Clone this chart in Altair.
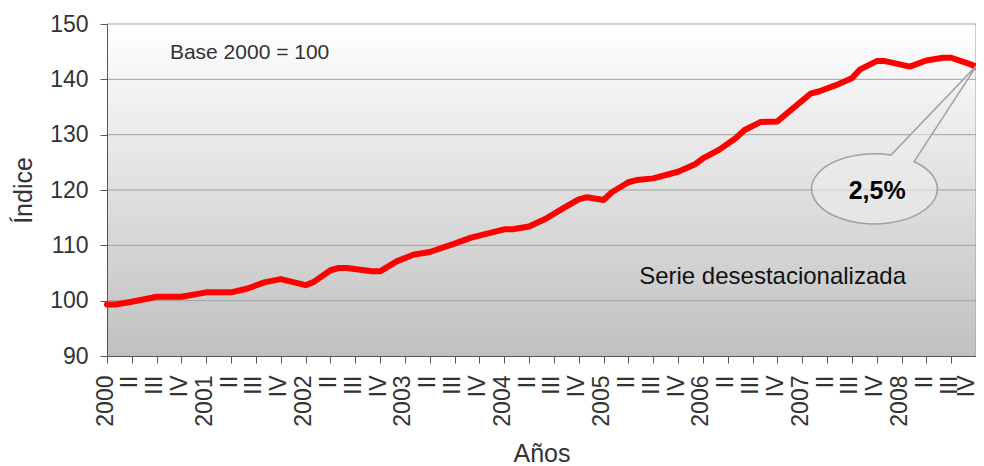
import altair as alt
import pandas as pd

# months since January 2000 and seasonally adjusted index (Base 2000 = 100)
meses = [0, 1, 3, 5, 6, 9, 12, 15, 17, 19, 21, 24, 25, 27, 28, 29, 32, 33, 35, 37,
         39, 42, 44, 48, 49, 51, 53, 55, 57, 58, 60, 61, 63, 64, 66, 69, 71, 72, 74, 76,
         77, 79, 81, 85, 86, 88, 90, 91, 93, 94, 97, 99, 101, 102, 104, 105]
indice = [99.3, 99.3, 99.8, 100.4, 100.7, 100.7, 101.5, 101.5, 102.2, 103.3,
          103.9, 102.8, 103.4, 105.5, 105.9, 105.9, 105.3, 105.3, 107.1, 108.3,
          108.8, 110.3, 111.4, 112.9, 112.9, 113.4, 114.8, 116.6, 118.3, 118.7,
          118.2, 119.6, 121.4, 121.8, 122.1, 123.3, 124.6, 125.7, 127.3, 129.4,
          130.8, 132.3, 132.4, 137.4, 137.8, 138.9, 140.2, 141.8, 143.3, 143.3,
          142.3, 143.4, 143.9, 143.9, 142.9, 142.3]

anio_inicial = 2000
trimestres = ["I", "II", "III", "IV"]
tick_meses = list(range(0, 106, 3))
y_ticks = [90, 100, 110, 120, 130, 140, 150]
grid_vals = [100, 110, 120, 130, 140, 150]

FONT = "Liberation Sans"
W, H = 869, 332

df = pd.DataFrame({"mes": meses, "indice": indice})
grid_df = pd.DataFrame({"v": grid_vals})

xs = alt.Scale(domain=[0, 105], nice=False, zero=False)
ys = alt.Scale(domain=[90, 150], nice=False, zero=False)

label_expr = (
    f"datum.value % 12 == 0 ? '' + ({anio_inicial} + datum.value / 12) : "
    f"(datum.value % 12 == 3 ? '{trimestres[1]}' : "
    f"(datum.value % 12 == 6 ? '{trimestres[2]}' : '{trimestres[3]}'))"
)

one = alt.Data(values=[{}])

bg = alt.Chart(one).mark_rect(
    color=alt.LinearGradient(
        gradient="linear", x1=0, x2=0, y1=0, y2=1,
        stops=[alt.GradientStop(offset=0, color="#ffffff"),
               alt.GradientStop(offset=1, color="#c0c0c0")])
).encode(
    x=alt.datum(0, scale=xs), x2=alt.datum(105),
    y=alt.datum(90, scale=ys), y2=alt.datum(150)
)

grid = alt.Chart(grid_df).mark_rule(color="#a0a0a0", strokeWidth=1).encode(
    y=alt.Y("v:Q", scale=ys)
)
right_border = alt.Chart(one).mark_rule(color="#a0a0a0", strokeWidth=1).encode(
    x=alt.datum(105, scale=xs)
)

line = alt.Chart(df).mark_line(
    color="#ff0000", strokeWidth=6, strokeJoin="round", strokeCap="round"
).encode(
    x=alt.X("mes:Q", scale=xs, axis=alt.Axis(
        values=tick_meses, tickCount=len(tick_meses) + 4,
        labelExpr=label_expr, labelAngle=270,
        labelOffset={"condition": {"test": "datum.value >= 105", "value": -10},
                     "value": -2},
        title="Años", grid=False, tickSize=7, labelPadding=12,
        labelFontSize=23, titleFontSize=25, titleFontWeight="normal",
        labelFlush=False, labelOverlap=False, labelBound=False,
        domainColor="#555555", tickColor="#555555", labelColor="#333333",
        titleColor="#333333", titlePadding=15, labelFont=FONT, titleFont=FONT,
        zindex=1)),
    y=alt.Y("indice:Q", scale=ys, axis=alt.Axis(
        values=y_ticks, tickCount=len(y_ticks) + 2, title="Índice", grid=False,
        tickSize=7, labelPadding=12,
        labelFontSize=23, titleFontSize=25, titleFontWeight="normal",
        domainColor="#555555", tickColor="#555555", labelColor="#333333",
        titleColor="#333333", titlePadding=13, labelFont=FONT, titleFont=FONT,
        zindex=1)),
)

callout_path = ("M 0.165 -0.338 L 1.025 -1.24 L 0.395 -0.272 "
                "A 0.628 0.35 0 1 1 0.165 -0.338 Z")
callout = alt.Chart(one).mark_point(
    shape=callout_path, size=40000, filled=True, fill="#ececec", fillOpacity=0.6,
    stroke="#a0a0a0", strokeWidth=1.5, opacity=1
).encode(x=alt.datum(92.75), y=alt.datum(120.2))

txt_base = alt.Chart(one).mark_text(
    text="Base 2000 = 100", font=FONT, fontSize=21, align="left",
    baseline="alphabetic", color="#333333"
).encode(x=alt.datum(7.6), y=alt.datum(143.66))

txt_serie = alt.Chart(one).mark_text(
    text="Serie desestacionalizada", font=FONT, fontSize=24, align="left",
    baseline="alphabetic", color="#111111"
).encode(x=alt.datum(64.3), y=alt.datum(103.1))

txt_pct = alt.Chart(one).mark_text(
    text="2,5%", font=FONT, fontSize=25, fontWeight="bold", align="center",
    baseline="alphabetic", color="#000000"
).encode(x=alt.datum(93.06), y=alt.datum(118.4))

chart = alt.layer(
    bg, grid, right_border, line, callout, txt_base, txt_serie, txt_pct
).properties(
    width=W, height=H, autosize="none",
    padding={"left": 99, "top": 16, "right": 0, "bottom": 110},
    background="white"
).configure_view(stroke=None)

chart.save("out.html", embed_options={"renderer": "svg", "actions": False})
